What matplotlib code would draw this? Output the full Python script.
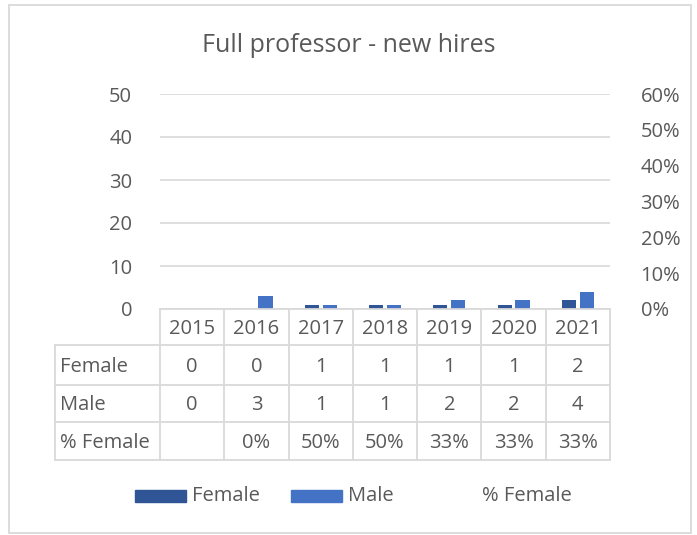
import numpy as np
import matplotlib.pyplot as plt
from matplotlib.lines import Line2D
from matplotlib.patches import Rectangle

plt.rcParams['font.family'] = ['Open Sans', 'DejaVu Sans']

years = ["2015", "2016", "2017", "2018", "2019", "2020", "2021"]
female = [0, 0, 1, 1, 1, 1, 2]
male = [0, 3, 1, 1, 2, 2, 4]

total = np.array(female) + np.array(male)
pct_female = [f / t if t else np.nan for f, t in zip(female, total)]

W, H = 697, 535
GREY = "#595959"
LINE = "#D9D9D9"
C_FEMALE = "#2F5597"
C_MALE = "#4472C4"
FS = 14.5


def fx(x):
    return x / W


def fy(y):
    return 1 - y / H


fig = plt.figure(figsize=(W / 100, H / 100), dpi=100)

# chart frame
fig.add_artist(Rectangle((fx(8.5), fy(533)), fx(682), (533 - 4.5) / H,
                         transform=fig.transFigure, fill=False,
                         edgecolor=LINE, lw=1.3))

left, right, top, bottom = 160, 610, 94, 309
ax = fig.add_axes([fx(left), fy(bottom), fx(right - left), (bottom - top) / H])
x = np.arange(len(years))
ax.bar(x - 0.14, female, width=0.22, color=C_FEMALE, zorder=3)
ax.bar(x + 0.14, male, width=0.22, color=C_MALE, zorder=3)
ax.set_xlim(-0.5, len(years) - 0.5)
ax.set_ylim(0, 50)
ax.set_yticks(range(0, 51, 10))
ax.yaxis.grid(True, color=LINE, lw=1.2)
ax.set_axisbelow(True)
ax.set_xticks([])
for s in ax.spines.values():
    s.set_visible(False)
ax.tick_params(axis="y", length=0, pad=20, labelsize=FS, labelcolor=GREY)

# secondary axis for % Female (line is drawn without a visible stroke)
ax2 = ax.twinx()
ax2.plot(x, pct_female, color="none")
ax2.set_ylim(0, 0.6)
ax2.set_yticks(np.arange(0, 0.61, 0.1))
ax2.set_yticklabels([f"{int(round(v * 100))}%" for v in np.arange(0, 0.61, 0.1)])
for s in ax2.spines.values():
    s.set_visible(False)
ax2.tick_params(axis="y", length=0, pad=22, labelsize=FS, labelcolor=GREY)

fig.text(fx(349), fy(46), "Full professor - new hires", ha="center", va="center",
         fontsize=18, color=GREY)

# data table beneath the plot
col_w = (right - left) / len(years)
row_y = [309, 345, 385, 422, 460]
tab_left = 55


def hline(x0, x1, y):
    fig.add_artist(Line2D([fx(x0), fx(x1)], [fy(y), fy(y)], color=LINE, lw=1.3))


def vline(x0, y0, y1):
    fig.add_artist(Line2D([fx(x0), fx(x0)], [fy(y0), fy(y1)], color=LINE, lw=1.3))


hline(left, right, row_y[0])
for y in row_y[1:]:
    hline(tab_left, right, y)
vline(tab_left, row_y[1], row_y[-1])
for i in range(len(years) + 1):
    vline(left + i * col_w, row_y[0], row_y[-1])

pct_text = ["" if np.isnan(p) else f"{int(round(p * 100))}%" for p in pct_female]
rows = [("", years), ("Female", [str(v) for v in female]),
        ("Male", [str(v) for v in male]), ("% Female", pct_text)]
for r, (label, cells) in enumerate(rows):
    yc = (row_y[r] + row_y[r + 1]) / 2 + 1.5
    if label:
        fig.text(fx(tab_left + 5), fy(yc), label, ha="left", va="center",
                 fontsize=FS, color=GREY)
    for i, c in enumerate(cells):
        fig.text(fx(left + (i + 0.5) * col_w), fy(yc), c, ha="center",
                 va="center", fontsize=FS, color=GREY)

# legend
ly = 496
for x0, name, color in [(135, "Female", C_FEMALE), (291, "Male", C_MALE)]:
    fig.add_artist(Rectangle((fx(x0), fy(ly + 6)), fx(51), 12 / H,
                             transform=fig.transFigure, color=color))
    fig.text(fx(x0 + 57), fy(ly), name, ha="left", va="center",
             fontsize=FS, color=GREY)
fig.text(fx(482), fy(ly), "% Female", ha="left", va="center",
         fontsize=FS, color=GREY)

fig.savefig("out.png", dpi=100)
